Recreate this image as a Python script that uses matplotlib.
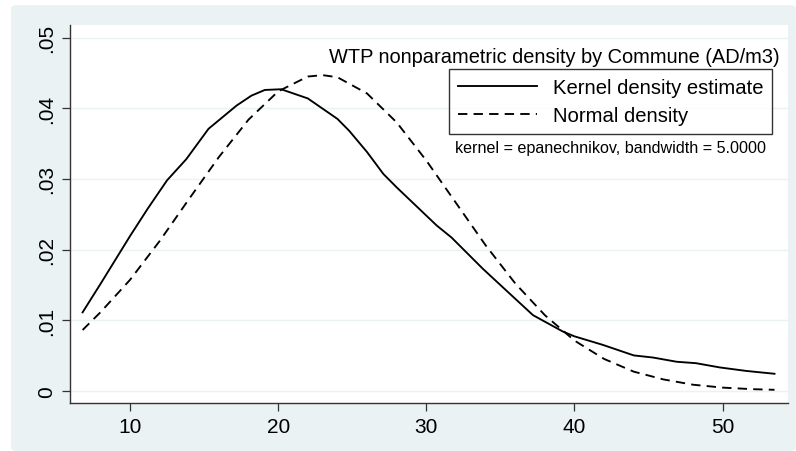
import matplotlib
matplotlib.use("Agg")
import matplotlib.pyplot as plt
from matplotlib.patches import FancyBboxPatch

plt.rcParams["font.family"] = ["Liberation Sans", "DejaVu Sans"]

# kernel density estimate
kde_x = [6.8, 8.0, 10.0, 11.2, 12.5, 13.8, 15.3, 17.2, 18.2, 19.1, 20.2, 22.0, 24.0,
         24.8, 26.0, 27.1, 28.0, 29.3, 30.7, 31.7, 33.8, 35.6, 37.2, 39.2, 40.0,
         41.9, 44.0, 45.3, 46.9, 48.2, 49.8, 51.6, 53.5]
kde_y = [0.0111, 0.0151, 0.0219, 0.0258, 0.0298, 0.0328, 0.0371, 0.0404, 0.0418,
         0.0426, 0.0427, 0.0414, 0.0385, 0.0368, 0.0338, 0.0307, 0.0288, 0.0262,
         0.0234, 0.0217, 0.0173, 0.0138, 0.0107, 0.0084, 0.0077, 0.0065, 0.0050,
         0.0047, 0.0041, 0.0039, 0.0033, 0.0028, 0.0024]

# normal density
norm_x = [6.8, 8, 10, 12, 14, 16, 18, 20, 22, 23, 24, 26, 28, 30, 32, 34, 36, 38,
          40, 42, 44, 46, 48, 50, 52, 53.5]
norm_y = [0.0086, 0.0111, 0.0157, 0.0212, 0.0272, 0.0331, 0.0384, 0.0424, 0.0445,
          0.0447, 0.0444, 0.0421, 0.0380, 0.0326, 0.0266, 0.0206, 0.0152, 0.0107,
          0.0071, 0.0045, 0.0027, 0.0016, 0.00085, 0.00044, 0.00022, 0.00013]

x_ticks = [10, 20, 30, 40, 50]
y_ticks = [0, 0.01, 0.02, 0.03, 0.04, 0.05]
y_labels = ["0", ".01", ".02", ".03", ".04", ".05"]

bg = "#EAF2F3"
W, H = 796, 452
fig = plt.figure(figsize=(W / 100, H / 100), dpi=100, facecolor="white")

# stata-like graph region
fig.patches.append(FancyBboxPatch((11 / W, 0), 1 - 11 / W, 1 - 6 / H,
                                  boxstyle="round,pad=0,rounding_size=0.008",
                                  transform=fig.transFigure, facecolor=bg,
                                  edgecolor="none", zorder=-10))

ax = fig.add_axes([70 / W, 1 - 404 / H, 718 / W, 378 / H])
ax.set_facecolor("white")

ax.plot(kde_x, kde_y, color="black", lw=1.35, label="Kernel density estimate")
ax.plot(norm_x, norm_y, color="black", lw=1.35, dashes=(5, 3.3), label="Normal density")

ax.set_xlim(5.95, 54.41)
ax.set_ylim(-0.00174, 0.0518)
ax.set_xticks(x_ticks)
ax.set_yticks(y_ticks)
ax.set_yticklabels(y_labels, rotation=90, va="center")
ax.tick_params(axis="both", labelsize=15, direction="out", length=6,
               width=0.9, color="#333333", pad=4)
ax.grid(axis="y", color=bg, lw=1)
ax.set_axisbelow(True)
for s in ["top", "right"]:
    ax.spines[s].set_visible(False)
for s in ["left", "bottom"]:
    ax.spines[s].set_color("#333333")
    ax.spines[s].set_linewidth(1)

ax.text(0.989, 0.902, "WTP nonparametric density by Commune (AD/m3)",
        transform=ax.transAxes, ha="right", va="baseline", fontsize=14.4)

leg = ax.legend(loc="upper right", bbox_to_anchor=(0.978, 0.8836), fontsize=14.6,
                frameon=True, fancybox=False, handlelength=3.9, handletextpad=0.75,
                borderpad=0.45, labelspacing=0.45, borderaxespad=0)
leg.get_frame().set_edgecolor("black")
leg.get_frame().set_linewidth(1)

ax.text(0.536, 0.677, "kernel = epanechnikov, bandwidth = 5.0000",
        transform=ax.transAxes, ha="left", va="center", fontsize=11.6)

fig.savefig("out.png", dpi=100, facecolor="white")
